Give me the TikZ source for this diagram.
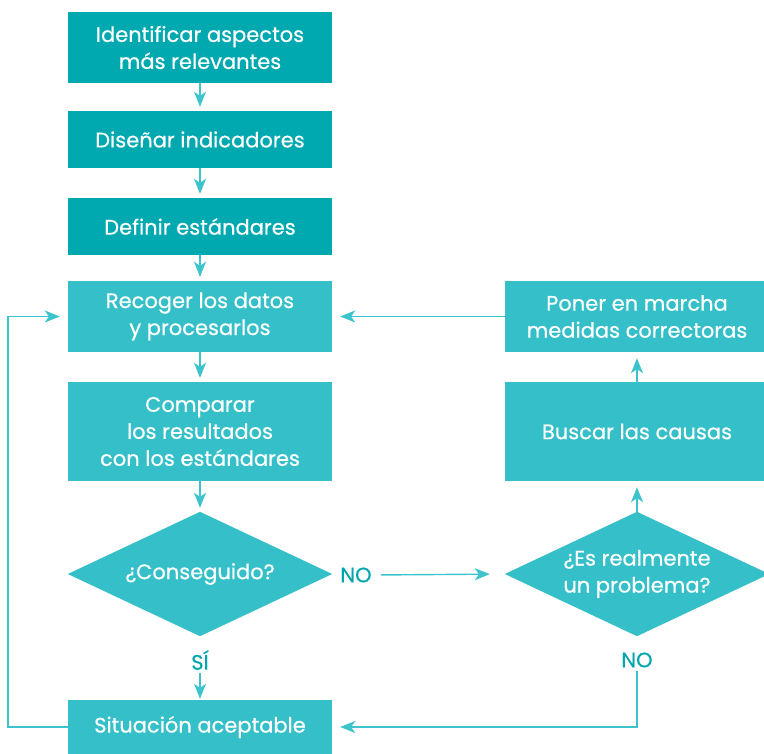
\documentclass[tikz,border=0pt]{standalone}
\usepackage{fontspec}
\setmainfont{Poppins}[FakeBold=0.5]
\usetikzlibrary{arrows.meta,backgrounds}
\definecolor{tealdark}{HTML}{00A8B0}
\definecolor{teallight}{HTML}{35C0C9}
\definecolor{lineteal}{HTML}{3CC3CC}
\definecolor{labelteal}{HTML}{00A5AD}
\tikzset{
  box/.style={rectangle, minimum width=264pt, inner sep=0pt, text=white, align=center,
    font=\fontsize{21}{27}\selectfont},
  darkbox/.style={box, fill=tealdark},
  lightbox/.style={box, fill=teallight},
  dia/.style={rectangle, minimum width=264pt, minimum height=124pt, inner sep=0pt, text=white, align=center,
    font=\fontsize{21}{27}\selectfont},
  lbl/.style={text=labelteal, inner sep=3pt, font=\fontsize{21}{24}\selectfont},
  arr/.style={draw=lineteal, line width=1.4pt, -{Stealth[length=15pt,width=12pt,inset=4pt]}},
  conn/.style={draw=lineteal, line width=1.4pt}
}
\begin{document}
\begin{tikzpicture}[x=1pt,y=-1pt]
\useasboundingbox (0,0) rectangle (764,754);
\node[darkbox, minimum height=71pt] (b1) at (200,47.5) {Identificar aspectos\\más relevantes};
\node[darkbox, minimum height=57pt] (b2) at (200,139.5) {Diseñar indicadores};
\node[darkbox, minimum height=57pt] (b3) at (200,226.5) {Definir estándares};
\node[lightbox, minimum height=71pt] (b4) at (200,316.5) {Recoger los datos\\y procesarlos};
\node[lightbox, minimum height=99pt] (b5) at (200,431.5) {Comparar\\los resultados\\con los estándares};
\node[dia] (d1) at (200,574) {¿Conseguido?};
\node[lightbox, minimum height=54pt] (b6) at (200,727) {Situación aceptable};
\node[lightbox, minimum height=71pt] (p) at (637,316.5) {Poner en marcha\\medidas correctoras};
\node[lightbox, minimum height=99pt] (c) at (637,431.5) {Buscar las causas};
\node[dia] (d2) at (637,574) {¿Es realmente\\un problema?};
\begin{scope}[on background layer]
\fill[teallight] (d1.north) -- (d1.east) -- (d1.south) -- (d1.west) -- cycle;
\fill[teallight] (d2.north) -- (d2.east) -- (d2.south) -- (d2.west) -- cycle;
\end{scope}
\node[lbl] (no1) at (356,575) {NO};
\node[lbl] (si) at (200,660) {SÍ};
\node[lbl] (no2) at (637,660) {NO};
\draw[arr, shorten <=6pt, shorten >=15pt] (no1.east) -- (d2.west);
\draw[arr, shorten >=4pt] (b1) -- (b2);
\draw[arr, shorten >=4pt] (b2) -- (b3);
\draw[arr, shorten >=4pt] (b3) -- (b4);
\draw[arr, shorten >=4pt] (b4) -- (b5);
\draw[arr, shorten >=4pt] (b5) -- (d1);
\draw[arr, shorten >=1pt] (si.south) -- (b6.north);
\draw[arr, shorten >=6pt] (d2.north) -- (c.south);
\draw[arr, shorten >=6pt] (c.north) -- (p.south);
\draw[arr, shorten >=8pt] (p.west) -- (b4.east);
\draw[arr, shorten >=8pt] (no2.south) |- (b6.east);
\draw[arr, shorten >=8pt] (b6.west) -- ++(-60,0) |- (b4.west);
\end{tikzpicture}
\end{document}
